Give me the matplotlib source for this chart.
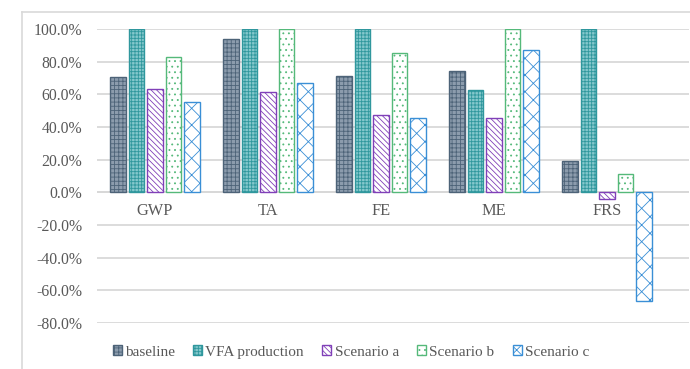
import matplotlib
matplotlib.use("Agg")
import matplotlib.pyplot as plt
import numpy as np
from matplotlib.lines import Line2D
from matplotlib.ticker import FuncFormatter, MultipleLocator

categories = ["GWP", "TA", "FE", "ME", "FRS"]
series_names = ["baseline", "VFA production", "Scenario a", "Scenario b", "Scenario c"]
baseline = [70.9, 94.0, 71.5, 74.4, 19.1]
vfa_production = [100.0, 100.0, 100.0, 62.4, 100.0]
scenario_a = [63.2, 61.4, 47.4, 45.3, -4.3]
scenario_b = [82.7, 100.0, 85.0, 100.0, 11.4]
scenario_c = [55.5, 67.0, 45.3, 87.2, -66.6]
series_values = [baseline, vfa_production, scenario_a, scenario_b, scenario_c]

styles = [
    dict(facecolor="#8c9cad", edgecolor="#4d6378", hatch="++++"),
    dict(facecolor="#84c8cc", edgecolor="#2f979d", hatch="+++++"),
    dict(facecolor="white", edgecolor="#8040b8", hatch="\\\\\\\\\\\\"),
    dict(facecolor="white", edgecolor="#55b97a", hatch="..."),
    dict(facecolor="white", edgecolor="#3a8fd6", hatch="xx"),
]

plt.rcParams["font.family"] = ["Liberation Serif", "DejaVu Serif"]
plt.rcParams["hatch.linewidth"] = 0.6

W, H = 690, 369
fig = plt.figure(figsize=(W / 100, H / 100), dpi=100)
ax = fig.add_axes([97 / W, 1 - 323 / H, (689 - 97) / W, (323 - 29) / H])

x = np.arange(len(categories))
pitch = 0.163
width = 0.137
for i, (name, vals, st) in enumerate(zip(series_names, series_values, styles)):
    ax.bar(x + (i - 2) * pitch, vals, width, label=name, linewidth=1.0,
           zorder=3, **st)

ax.set_xlim((97 - 155) / 113, (689 - 155) / 113)
ax.set_ylim(-80, 100)
ax.yaxis.set_major_locator(MultipleLocator(20))
ax.yaxis.set_major_formatter(FuncFormatter(lambda v, p: f"{v:.1f}%"))
ax.grid(axis="y", color="#d9d9d9", linewidth=1.3, zorder=0)
ax.axhline(0, color="#d0d0d0", linewidth=1.3, zorder=1)
ax.set_xticks([])
ax.tick_params(axis="y", length=0, pad=10.5, labelsize=11.3, labelcolor="#595959")
for s in ax.spines.values():
    s.set_visible(False)

for i, c in enumerate(categories):
    ax.annotate(c, xy=(i, 0), xytext=(0, -8), textcoords="offset points",
                ha="center", va="top", fontsize=11.8, color="#595959")

leg = fig.legend(loc="center", bbox_to_anchor=(351 / W, 1 - 352 / H), ncol=5,
                 frameon=False, fontsize=11, handlelength=0.6, handleheight=0.6,
                 handletextpad=0.2, columnspacing=1.2, borderaxespad=0)
for t in leg.get_texts():
    t.set_color("#595959")

# outer chart frame
fig.add_artist(Line2D([22 / W, 1], [1 - 12 / H, 1 - 12 / H], color="#d9d9d9", lw=1.2))
fig.add_artist(Line2D([22 / W, 22 / W], [0, 1 - 12 / H], color="#d9d9d9", lw=1.2))

fig.savefig("out.png", dpi=100)
